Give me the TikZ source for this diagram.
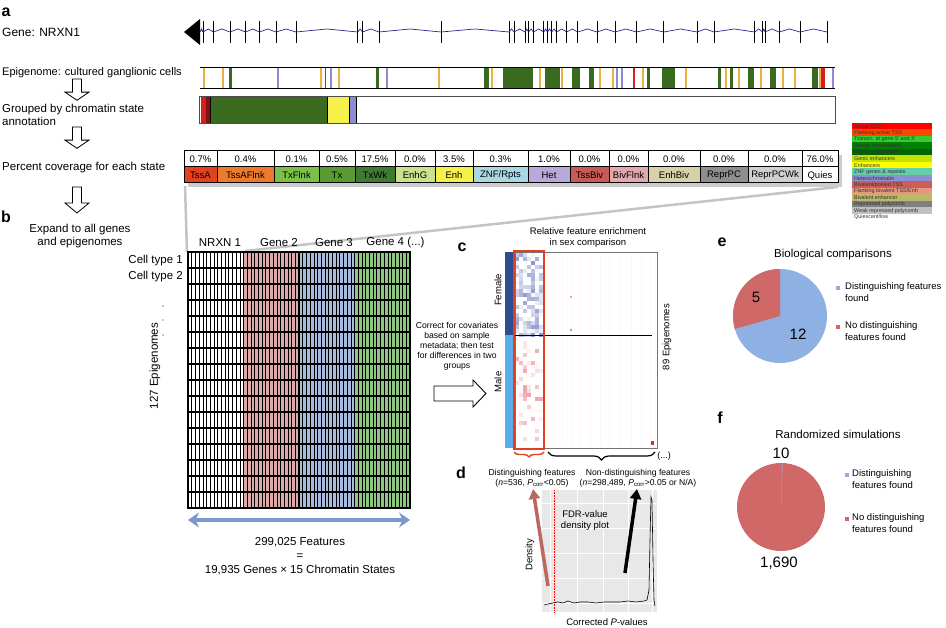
\documentclass[tikz,border=0pt]{standalone}
\usepackage{fontspec}
\setmainfont{Liberation Sans}
\usepackage{tikz}
\usetikzlibrary{arrows.meta,decorations.pathreplacing,positioning}

\definecolor{genenavy}{RGB}{40,40,140}
\definecolor{orng}{RGB}{238,176,62}
\definecolor{dgrn}{RGB}{58,106,32}
\definecolor{blu}{RGB}{140,140,212}
\definecolor{rd}{RGB}{212,32,32}
\definecolor{zoomgray}{RGB}{196,196,196}
% coverage table
\definecolor{cTssA}{RGB}{226,66,30}
\definecolor{cTssAFlnk}{RGB}{236,122,44}
\definecolor{cTxFlnk}{RGB}{124,192,74}
\definecolor{cTx}{RGB}{90,154,50}
\definecolor{cTxWk}{RGB}{62,122,52}
\definecolor{cEnhG}{RGB}{205,224,140}
\definecolor{cEnh}{RGB}{246,240,74}
\definecolor{cZNF}{RGB}{168,216,228}
\definecolor{cHet}{RGB}{184,170,216}
\definecolor{cTssBiv}{RGB}{200,90,88}
\definecolor{cBivFlnk}{RGB}{226,168,172}
\definecolor{cEnhBiv}{RGB}{216,208,166}
\definecolor{cReprPC}{RGB}{142,142,142}
\definecolor{cReprPCWk}{RGB}{207,207,207}
% state legend
\definecolor{lgA}{RGB}{255,0,0}
\definecolor{lgB}{RGB}{255,69,0}
\definecolor{lgC}{RGB}{50,205,50}
\definecolor{lgD}{RGB}{0,128,0}
\definecolor{lgE}{RGB}{0,100,0}
\definecolor{lgF}{RGB}{194,225,5}
\definecolor{lgG}{RGB}{255,255,0}
\definecolor{lgH}{RGB}{102,205,170}
\definecolor{lgI}{RGB}{138,145,208}
\definecolor{lgJ}{RGB}{205,92,92}
\definecolor{lgK}{RGB}{233,150,122}
\definecolor{lgL}{RGB}{189,183,107}
\definecolor{lgM}{RGB}{128,128,128}
\definecolor{lgN}{RGB}{192,192,192}
% matrix, heatmap, pies
\definecolor{gtwo}{RGB}{220,168,168}
\definecolor{gthree}{RGB}{168,186,222}
\definecolor{gfour}{RGB}{140,200,125}
\definecolor{featblue}{RGB}{122,154,204}
\definecolor{hmblue}{RGB}{60,80,170}
\definecolor{hmred}{RGB}{222,40,50}
\definecolor{hmfemale}{RGB}{45,78,142}
\definecolor{hmmale}{RGB}{90,174,232}
\definecolor{boxred}{RGB}{226,62,36}
\definecolor{fdrbrown}{RGB}{184,106,94}
\definecolor{pieblue}{RGB}{143,176,226}
\definecolor{piered}{RGB}{208,104,104}

\begin{document}
\begin{tikzpicture}[x=1pt,y=-1pt,
    panel/.style={font=\bfseries\fontsize{16}{16}\selectfont, inner sep=0pt},
    lbl/.style={font=\fontsize{11.5}{13.5}\selectfont, inner sep=0pt},
    toplbl/.style={font=\fontsize{11}{13}\selectfont, inner sep=0pt},
    tbltxt/.style={font=\fontsize{9.5}{10}\selectfont, inner sep=0pt},
    legtxt/.style={font=\fontsize{5.4}{5.4}\selectfont, text=black!80, inner sep=0pt},
    note/.style={font=\fontsize{8.6}{10}\selectfont, inner sep=0pt, align=center},
    bignum/.style={font=\fontsize{15}{15}\selectfont, inner sep=0pt},
    hollowdown/.pic={\draw[line width=0.8pt, fill=white] (-4.5,0) -- (4.5,0) -- (4.5,16) -- (12,16) -- (0,26) -- (-12,16) -- (-4.5,16) -- cycle;}]
\useasboundingbox (0,0) rectangle (946,628);

% Panel letters
\node[panel] (pa) at (6,12) {a};
\node[panel] (pb) at (6,217) {b};
\node[panel] (pc) at (462,247) {c};
\node[panel] (pd) at (461,473) {d};
\node[panel] (pe) at (722,242) {e};
\node[panel] (pf) at (720,418) {f};

% Left column
\node[toplbl, anchor=west, font=\fontsize{12}{13}\selectfont] (geneLbl) at (2,32) {Gene: NRXN1};
\node[toplbl, anchor=west] (epiLbl) at (2,73) {Epigenome: cultured ganglionic cells};
\node[lbl, anchor=west, align=left] (grpLbl) at (2,115) {Grouped by chromatin state\\annotation};
\node[lbl, anchor=west] (pctLbl) at (2,168) {Percent coverage for each state};
\node[lbl, align=center] (expLbl) at (80,236) {Expand to all genes\\and epigenomes};
\pic[yscale=0.82] at (77,79) {hollowdown};
\pic[yscale=0.82] at (77,127) {hollowdown};
\pic at (77,187) {hollowdown};

% Gene track
\fill[black] (200,19) -- (200,45) -- (184,32) -- cycle;
\foreach \x [remember=\x as \lastx (initially 200)] in {203,213.5,230,245.6,259.5,276,296,357.7,362.6,379,441,509,514,525,528.6,533.5,543.8,547.4,551.7,556.5,566.8,577.7,597,615,636.5,663.8,697,714,754.7,762.6,765,779,800,827}{
  \draw[genenavy, line width=0.7pt] (\lastx,32) -- ({(\lastx+\x)/2},29) -- (\x,32);
  \draw[line width=0.8pt] (\x,21) -- (\x,43);
}

% Epigenome track
\foreach \x/\w/\c in {203/1.5/orng, 222/1.5/orng, 229/3/dgrn, 277/1.5/blu, 320/1.5/orng,
    324.5/1.5/rd, 330/1.5/blu, 338/1.5/orng, 376/3/dgrn, 386/1.5/blu, 438/1.5/orng,
    484/5/dgrn, 491/1.5/orng, 503/30/dgrn, 539/1.5/orng, 545/15/dgrn, 561/1.5/orng,
    572/8/dgrn, 589/5/dgrn, 599/1.5/orng, 612/1.5/orng, 616/1.5/blu, 621/1.5/blu,
    633/1.5/rd, 642/1.5/orng, 647/3/dgrn, 662/13/dgrn, 685/1.5/orng, 718/3/dgrn,
    725/1.5/orng, 730/3/dgrn, 738/1.5/orng, 748/6/dgrn, 760/1.5/orng, 770/6/dgrn,
    782/1.5/orng, 794/1.5/orng, 812/6/dgrn, 819/2/orng, 821/4/rd, 832/1.5/blu}{
  \fill[\c] (\x,67) rectangle ++(\w,21);
}
\draw[line width=0.9pt] (200,67) -- (835,67) (200,88) -- (835,88);

% Grouped states
\fill[rd] (201,97) rectangle (206,124);
\fill[rd!60!black] (206,97) rectangle (210,124);
\fill[dgrn] (211,97) rectangle (327,124);
\fill[cEnh] (328,97) rectangle (349,124);
\fill[blu] (350,97) rectangle (356,124);
\draw[line width=0.6pt] (210.5,97) -- ++(0,27) (327.5,97) -- ++(0,27) (349.5,97) -- ++(0,27) (356.5,97) -- ++(0,27);
\draw[black!70, line width=1pt] (199,97) rectangle (835,124);

% Zoom lines
\draw[zoomgray, line width=2.5pt] (185,186) -- (187,252);
\draw[zoomgray, line width=2.5pt] (838,187) -- (245,251);

% Coverage table
\fill[black!20] (188,155) rectangle (842,187);
\foreach \xa/\xb/\pct/\nm/\c [count=\i] in {
    184/217/0.7/TssA/cTssA, 217/274/0.4/TssAFlnk/cTssAFlnk, 274/319/0.1/TxFlnk/cTxFlnk,
    319/355/0.5/Tx/cTx, 355/395/17.5/TxWk/cTxWk, 395/435/0.0/EnhG/cEnhG,
    435/473/3.5/Enh/cEnh, 473/528/0.3/{ZNF/Rpts}/cZNF, 528/570/1.0/Het/cHet,
    570/609/0.0/TssBiv/cTssBiv, 609/648/0.0/BivFlnk/cBivFlnk, 648/700/0.0/EnhBiv/cEnhBiv,
    700/748/0.0/ReprPC/cReprPC, 748/802/0.0/ReprPCWk/cReprPCWk, 802/838/76.0/Quies/white}{
  \draw[line width=1pt, fill=white] (\xa,151) rectangle (\xb,167);
  \draw[line width=1pt, fill=\c] (\xa,167) rectangle (\xb,183);
  \node[tbltxt] (pct\i) at ({(\xa+\xb)/2},159.5) {\pct\%};
  \node[tbltxt] (st\i) at ({(\xa+\xb)/2},175.5) {\nm};
}

% State legend
\foreach \c/\t [count=\i from 0] in {lgA/Active TSS, lgB/Flanking active TSS,
    lgC/Transcr. at gene 5' and 3', lgD/Strong transcription, lgE/Weak transcription,
    lgF/Genic enhancers, lgG/Enhancers, lgH/ZNF genes \& repeats, lgI/Heterochromatin,
    lgJ/{Bivalent/poised TSS}, lgK/{Flanking bivalent TSS/Enh}, lgL/Bivalent enhancer,
    lgM/Repressed polycomb, lgN/Weak repressed polycomb, white/{Quiescent/low}}{
  \fill[\c] (852,{123+6.5*\i}) rectangle ++(80,6.5);
  \node[legtxt, anchor=west] (leg\i) at (854,{126.4+6.5*\i}) {\t};
}

% Feature matrix
\fill[gtwo] (243.5,252) rectangle (299,508);
\fill[gthree] (299,252) rectangle (354.5,508);
\fill[gfour] (354.5,252) rectangle (410,508);
\foreach \g in {0,...,3}
  \foreach \k in {1,...,14}
    \draw[line width=0.45pt] ({188+55.5*\g+3.7*\k},252) -- ++(0,256);
\foreach \r in {0,...,16}
  \draw[line width=1.3pt] (187.4,{252+16*\r}) -- (410.6,{252+16*\r});
\foreach \g in {0,...,4}
  \draw[line width=1.3pt] ({188+55.5*\g},252) -- ++(0,256);

\node[lbl] (gn1) at (220,243) {NRXN 1};
\node[lbl] (gn2) at (279,243) {Gene 2};
\node[lbl] (gn3) at (334,243) {Gene 3};
\node[lbl] (gn4) at (395.5,243) {Gene 4 (...)};
\node[lbl, anchor=east] (ct1) at (183,261) {Cell type 1};
\node[lbl, anchor=east] (ct2) at (183,277) {Cell type 2};
\node[lbl, rotate=90] (epi127) at (155,366) {127 Epigenomes};
\foreach \y in {306,320,335}
  \fill[black!45] (163,\y) circle (0.8pt);

% Feature count
\coordinate (featL) at (188,520);
\coordinate (featR) at (410,520);
\draw[featblue, line width=4pt, {Stealth[length=11pt,width=15pt]}-{Stealth[length=11pt,width=15pt]}] (featL) -- (featR);
\node[lbl, align=center, font=\fontsize{11.5}{14}\selectfont] (featTxt) at (300,556) {299,025 Features\\=\\19,935 Genes × 15 Chromatin States};

% Test step
\node[note] (testTxt) at (457,346) {Correct for covariates\\based on sample\\metadata; then test\\for differences in two\\groups};
\draw[line width=0.9pt, fill=white] (434,386) -- (473,386) -- (473,380) -- (486,393.5) -- (473,407) -- (473,401) -- (434,401) -- cycle;

% Heatmap
\node[font=\fontsize{9.5}{11}\selectfont, align=center, inner sep=0pt] (hmTitle) at (588,237.5) {Relative feature enrichment\\in sex comparison};
\fill[hmfemale] (505,252) rectangle (513,335);
\fill[hmmale] (505,335) rectangle (513,448);
\node[font=\fontsize{9.5}{10}\selectfont, rotate=90, inner sep=0pt] (femLbl) at (498,290) {Female};
\node[font=\fontsize{9.5}{10}\selectfont, rotate=90, inner sep=0pt] (malLbl) at (498,382) {Male};
\node[font=\fontsize{9.5}{10}\selectfont, rotate=90, inner sep=0pt] (epi89) at (667,337) {89 Epigenomes};
\foreach \x in {553,562,571,580,590,600,609,620,631,641,650}
  \fill[hmred!4] (\x,254) rectangle ++(1,192);
\pgfmathsetseed{11}
\foreach \i in {0,...,6}{
  \foreach \j in {0,...,47}{
    \pgfmathsetmacro{\yy}{253+4*\j}
    \ifdim\yy pt<335pt
      \pgfmathtruncatemacro{\lev}{max(0,rnd*90-30)}
      \fill[hmblue!\lev] ({515+4*\i},\yy) rectangle ++(4,4);
    \else
      \pgfmathtruncatemacro{\lev}{max(0,rnd*150-105)}
      \fill[hmred!\lev] ({515+4*\i},\yy) rectangle ++(4,4);
    \fi
  }
}
\fill[hmred!45] (570,296) rectangle ++(2,2);
\fill[black!35] (570,329) rectangle ++(2,2);
\fill[hmred] (651,441) rectangle ++(3,4);
\draw[black!55, line width=0.6pt] (515,252) rectangle (657,448);
\draw[line width=0.8pt] (513,335) -- (652,335);
\draw[boxred, line width=1.6pt] (514,251) rectangle (544,449);

% Braces
\draw[boxred, line width=1.4pt, decorate, decoration={brace, mirror, amplitude=5pt}] (514,452) -- (544,452);
\draw[line width=1.2pt, decorate, decoration={brace, mirror, amplitude=8pt}] (548,452) -- (655,452);
\node[font=\fontsize{9}{10}\selectfont, inner sep=0pt] (moreLbl) at (664,456) {(...)};
\node[note] (distTxt) at (532,478) {Distinguishing features\\(\textit{n}=536, \textit{P}\textsubscript{corr}<0.05)};
\node[note] (nondTxt) at (638,478) {Non-distinguishing features\\(\textit{n}=298,489, \textit{P}\textsubscript{corr}>0.05 or N/A)};

% Density plot
\fill[black!9] (542,490) rectangle (657,612);
\foreach \x in {550,577,603,628,652}
  \draw[white, line width=0.6pt] (\x,490) -- (\x,612);
\foreach \y in {503,528,553,578,603}
  \draw[white, line width=0.6pt] (542,\y) -- (657,\y);
\draw[red, densely dotted, line width=0.6pt] (554,490) -- (554,612);
\draw[line width=0.6pt] (544,605) -- (548,604) -- (553,603) -- (558,602) -- (563,603) -- (568,601) -- (574,603) -- (580,602) -- (588,602) -- (596,603) -- (604,602) -- (612,602) -- (620,602) -- (628,601) -- (636,602) -- (644,601) -- (647,600) -- (649,590) -- (650,540) -- (651,497) -- (652,500) -- (653,560) -- (654,600) -- (655,606);
\node[font=\fontsize{9.5}{11}\selectfont, align=center, inner sep=0pt] (fdrTxt) at (585,520.5) {FDR-value\\density plot};
\node[font=\fontsize{9.5}{10}\selectfont, rotate=90, inner sep=0pt] (densLbl) at (530,555) {Density};
\node[font=\fontsize{9.5}{10}\selectfont, inner sep=0pt] (pvalLbl) at (607,622) {Corrected \textit{P}-values};
\coordinate (redTail) at (548,586);
\coordinate (redTip) at (533,489);
\coordinate (blkTail) at (625,573);
\coordinate (blkTip) at (637,489);
\draw[fdrbrown, line width=3.5pt, -{Triangle[length=10pt,width=11pt]}] (redTail) -- (redTip);
\draw[black, line width=3.5pt, -{Triangle[length=10pt,width=11pt]}] (blkTail) -- (blkTip);

% Pie e
\node[lbl] (eTitle) at (833,255) {Biological comparisons};
\coordinate (pieE) at (780,316);
\fill[pieblue] (pieE) circle[radius=47pt];
\fill[piered] (pieE) -- ++(90:47pt) arc[start angle=90, end angle=196, radius=47pt] -- cycle;
\node[bignum] (eFive) at (756,297) {5};
\node[bignum] (eTwelve) at (798,334) {12};
\fill[pieblue] (836,286) rectangle ++(4,4);
\node[font=\fontsize{9.5}{12}\selectfont, anchor=north west, align=left, inner sep=0pt] (eLeg1) at (845,282) {Distinguishing features\\found};
\fill[piered] (836,325) rectangle ++(4,4);
\node[font=\fontsize{9.5}{12}\selectfont, anchor=north west, align=left, inner sep=0pt] (eLeg2) at (845,321) {No distinguishing\\features found};

% Pie f
\node[lbl] (fTitle) at (838,434) {Randomized simulations};
\coordinate (pieF) at (781,507);
\fill[piered] (pieF) circle[radius=44pt];
\fill[pieblue] (pieF) -- ++(90:44pt) arc[start angle=90, end angle=87.9, radius=44pt] -- cycle;
\draw[pieblue!85!black, line width=0.5pt] (pieF) -- ++(90:44pt);
\node[bignum] (fTen) at (781,453) {10};
\node[bignum] (fBig) at (779,563) {1,690};
\fill[pieblue] (845,473) rectangle ++(4,4);
\node[font=\fontsize{9.5}{12}\selectfont, anchor=north west, align=left, inner sep=0pt] (fLeg1) at (852,469) {Distinguishing\\features found};
\fill[piered] (845,517) rectangle ++(4,4);
\node[font=\fontsize{9.5}{12}\selectfont, anchor=north west, align=left, inner sep=0pt] (fLeg2) at (852,513) {No distinguishing\\features found};
\end{tikzpicture}
\end{document}
